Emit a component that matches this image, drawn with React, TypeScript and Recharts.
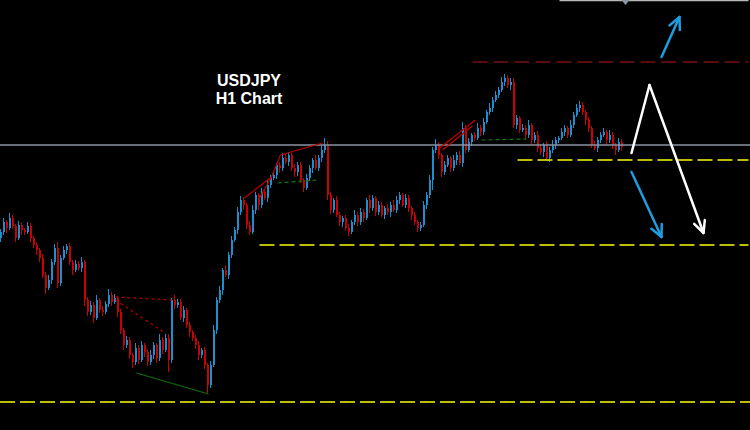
import { BarChart, Bar, XAxis, YAxis, ReferenceLine, ReferenceDot } from "recharts";

// USDJPY H1 closes (one per hour)
const firstOpen = 108.62;
const closes = [
  108.68, 108.78, 108.72, 108.82, 108.74, 108.62, 108.75, 108.7, 108.68, 108.74,
  108.62, 108.55, 108.5, 108.42, 108.25, 108.12, 108.2, 108.38, 108.52, 108.17,
  108.42, 108.5, 108.54, 108.38, 108.3, 108.36, 108.32, 108.38, 108.0, 107.88,
  107.95, 107.82, 108.0, 107.9, 107.88, 107.96, 108.05, 107.98, 108.02, 107.88,
  107.7, 107.55, 107.6, 107.45, 107.38, 107.52, 107.4, 107.55, 107.48, 107.38,
  107.45, 107.55, 107.42, 107.6, 107.5, 107.62, 107.4, 108.0, 107.95, 107.98,
  107.82, 107.9, 107.75, 107.68, 107.62, 107.55, 107.45, 107.5, 107.35, 107.15,
  107.35, 107.7, 108.0, 108.1, 108.3, 108.25, 108.45, 108.6, 108.7, 108.88,
  109.0, 108.95, 108.75, 108.68, 108.9, 109.05, 108.95, 109.08, 109.02, 109.15,
  109.22, 109.25, 109.35, 109.32, 109.42, 109.38, 109.45, 109.32, 109.28, 109.35,
  109.2, 109.12, 109.22, 109.32, 109.4, 109.32, 109.42, 109.5, 109.55, 109.05,
  108.9, 109.0, 108.85, 108.78, 108.82, 108.72, 108.68, 108.78, 108.85, 108.78,
  108.88, 108.82, 109.0, 108.92, 109.02, 108.88, 108.95, 108.85, 108.92, 108.88,
  108.95, 108.9, 109.0, 109.05, 108.95, 109.02, 108.92, 108.85, 108.78, 108.72,
  108.75, 108.95, 109.05, 109.2, 109.5, 109.55, 109.45, 109.28, 109.35, 109.42,
  109.32, 109.4, 109.45, 109.37, 109.72, 109.5, 109.58, 109.65, 109.62, 109.72,
  109.68, 109.78, 109.88, 109.92, 110.0, 110.05, 110.1, 110.18, 110.22, 110.15,
  110.18, 109.75, 109.82, 109.7, 109.72, 109.65, 109.75, 109.6, 109.65, 109.52,
  109.48, 109.55, 109.42, 109.5, 109.55, 109.6, 109.62, 109.68, 109.72, 109.65,
  109.75, 109.85, 109.92, 109.95, 109.88, 109.8, 109.72, 109.55, 109.52, 109.6,
  109.65, 109.68, 109.6, 109.65, 109.55, 109.5, 109.58, 109.53,
];

// wick lengths above / below the body, in pips (0.01)
const upperWick = [
  3, 4, 2, 5, 3, 2, 4, 3, 2, 4, 3, 2, 3, 2, 4, 3, 5, 3, 4, 6,
  3, 4, 2, 3, 2, 4, 3, 5, 2, 3, 4, 3, 5, 2, 4, 3, 6, 3, 4, 2,
  3, 2, 4, 3, 2, 5, 3, 4, 2, 3, 5, 3, 2, 6, 3, 4, 4, 2, 5, 3,
  3, 4, 2, 3, 2, 3, 4, 2, 3, 2, 4, 5, 3, 4, 2, 5, 3, 4, 3, 5,
  4, 3, 2, 4, 5, 3, 2, 4, 3, 5, 3, 4, 2, 3, 5, 4, 3, 2, 4, 3,
  3, 2, 4, 3, 2, 5, 3, 4, 7, 4, 3, 2, 4, 3, 2, 3, 4, 2, 5, 3,
  4, 3, 2, 5, 3, 2, 4, 3, 2, 4, 3, 5, 4, 3, 2, 4, 3, 2, 3, 2,
  3, 4, 3, 5, 3, 6, 3, 2, 4, 3, 2, 5, 3, 4, 6, 3, 4, 2, 3, 5,
  3, 4, 2, 5, 3, 4, 3, 5, 4, 3, 4, 4, 3, 2, 4, 3, 5, 2, 3, 4,
  3, 2, 4, 3, 5, 3, 2, 4, 3, 2, 5, 3, 4, 4, 3, 2, 3, 2, 4, 3,
  3, 4, 2, 5, 3, 2, 4, 3,
];
const lowerWick = [
  4, 3, 5, 2, 3, 4, 2, 5, 3, 2, 4, 3, 5, 4, 3, 6, 2, 4, 3, 5,
  3, 2, 4, 3, 5, 2, 3, 4, 6, 4, 3, 5, 2, 3, 4, 2, 3, 4, 2, 5,
  4, 5, 3, 4, 6, 3, 4, 2, 5, 4, 3, 4, 5, 3, 4, 2, 12, 3, 4, 3,
  2, 4, 3, 5, 3, 4, 5, 3, 4, 8, 3, 2, 4, 3, 5, 2, 4, 3, 2, 4,
  3, 5, 4, 3, 2, 4, 5, 3, 2, 4, 3, 2, 4, 5, 3, 2, 4, 3, 5, 4,
  3, 4, 2, 3, 5, 2, 3, 4, 3, 5, 4, 3, 2, 4, 5, 3, 4, 2, 3, 4,
  3, 4, 2, 5, 3, 4, 3, 2, 4, 3, 5, 2, 3, 4, 2, 3, 4, 5, 3, 4,
  3, 2, 4, 3, 10, 3, 4, 5, 3, 2, 4, 3, 5, 2, 4, 3, 2, 4, 3, 2,
  4, 3, 2, 3, 4, 2, 3, 2, 4, 3, 5, 3, 4, 3, 2, 4, 3, 5, 3, 4,
  3, 5, 2, 4, 3, 4, 3, 2, 4, 3, 2, 3, 2, 4, 3, 5, 4, 3, 2, 4,
  3, 2, 4, 3, 4, 5, 2, 4,
];

const SLOTS = 250; // hourly slots on screen, the rest is the empty right shift

// support / resistance levels
const resistance = 110.38;
const pivot = 109.55;
const support1 = 109.4;
const support2 = 108.55;
const support3 = 106.98;

const BLUE = "#1b8fcf";
const RED = "#cc0000";
const YELLOW = "#bdbd00";

const data = Array.from({ length: SLOTS }, (_, i) => {
  if (i >= closes.length) return { i };
  const o = i === 0 ? firstOpen : closes[i - 1];
  const c = closes[i];
  const hi = Math.max(o, c) + (upperWick[i] ?? 0) / 100;
  const lo = Math.min(o, c) - (lowerWick[i] ?? 0) / 100;
  return { i, o, c, hi, lo, range: [lo, hi] };
});

function Candle(props: any) {
  const { x, y, height, payload } = props;
  if (!payload || payload.o == null) return null;
  const { o, c, hi, lo } = payload;
  const color = c >= o ? BLUE : RED;
  const k = hi > lo ? Math.abs(height) / (hi - lo) : 0;
  const bx = Math.round(x);
  const bodyTop = y + (hi - Math.max(o, c)) * k;
  const bodyH = Math.max(1, Math.abs(o - c) * k);
  return (
    <g>
      <line x1={bx + 0.5} x2={bx + 0.5} y1={y} y2={y + Math.abs(height)} stroke={color} strokeWidth={1} />
      <rect x={bx} y={bodyTop} width={2} height={bodyH} fill={color} />
    </g>
  );
}

const arrow = (color: string, withHead: boolean) => (p: any) => {
  const { x1, y1, x2, y2 } = p;
  const a = Math.atan2(y2 - y1, x2 - x1);
  const L = 13;
  const s = 0.45;
  const hx1 = x2 - L * Math.cos(a - s);
  const hy1 = y2 - L * Math.sin(a - s);
  const hx2 = x2 - L * Math.cos(a + s);
  const hy2 = y2 - L * Math.sin(a + s);
  return (
    <g>
      <line x1={x1} y1={y1} x2={x2} y2={y2} stroke={color} strokeWidth={2.5} strokeLinecap="round" />
      {withHead && (
        <polyline
          points={`${hx1},${hy1} ${x2},${y2} ${hx2},${hy2}`}
          fill="none"
          stroke={color}
          strokeWidth={2.5}
          strokeLinecap="round"
          strokeLinejoin="round"
        />
      )}
    </g>
  );
};

const seg = (x1: number, y1: number, x2: number, y2: number) => [
  { x: x1, y: y1 },
  { x: x2, y: y2 },
];

export default function App() {
  return (
    <div style={{ position: "fixed", left: 0, top: 0, width: 750, height: 430, background: "#000" }}>
      <BarChart
        width={750}
        height={430}
        data={data}
        margin={{ top: 0, right: 0, bottom: 0, left: 0 }}
        barCategoryGap={0}
        style={{ background: "#000" }}
      >
        <XAxis dataKey="i" type="category" hide />
        <YAxis type="number" domain={[106.7, 111.0]} hide allowDataOverflow />

        <ReferenceLine segment={seg(186, 110.995, 249, 110.995)} stroke="#b8b8b8" strokeWidth={1.5} />
        <ReferenceDot
          x={208}
          y={110.98}
          shape={(p: any) => (
            <path d={`M${p.cx - 4},${p.cy - 2} L${p.cx + 4},${p.cy - 2} L${p.cx},${p.cy + 3} Z`} fill="#8c96a4" />
          )}
        />

        <ReferenceLine y={pivot} stroke="#8a93a3" strokeWidth={1.5} />
        <ReferenceLine segment={seg(157, resistance, 249, resistance)} stroke="#b01818" strokeWidth={1} strokeDasharray="15 6" />
        <ReferenceLine segment={seg(172, support1, 249, support1)} stroke={YELLOW} strokeWidth={2} strokeDasharray="15 5" />
        <ReferenceLine segment={seg(86, support2, 249, support2)} stroke={YELLOW} strokeWidth={2} strokeDasharray="15 5" />
        <ReferenceLine y={support3} stroke={YELLOW} strokeWidth={2} strokeDasharray="15 5" />

        {/* pattern lines drawn on the candles */}
        <ReferenceLine segment={seg(38, 108.03, 57, 108.0)} stroke="#b00000" strokeWidth={1.2} strokeDasharray="3 3" />
        <ReferenceLine segment={seg(38, 108.0, 54, 107.68)} stroke="#b00000" strokeWidth={1.2} strokeDasharray="3 3" />
        <ReferenceLine segment={seg(45, 107.27, 69, 107.06)} stroke="#0a6e0a" strokeWidth={1.2} />
        <ReferenceLine segment={seg(81, 109.02, 90, 109.23)} stroke="#c00000" strokeWidth={1.2} />
        <ReferenceLine segment={seg(86, 109.02, 90, 109.23)} stroke="#c00000" strokeWidth={1.2} />
        <ReferenceLine segment={seg(90, 109.23, 93, 109.45)} stroke="#c00000" strokeWidth={1.2} />
        <ReferenceLine segment={seg(93, 109.45, 107, 109.57)} stroke="#c00000" strokeWidth={1.2} />
        <ReferenceLine segment={seg(92, 109.17, 105, 109.2)} stroke="#0a7a0a" strokeWidth={1.2} strokeDasharray="4 3" />
        <ReferenceLine segment={seg(146, 109.52, 158, 109.8)} stroke="#c00000" strokeWidth={1.2} />
        <ReferenceLine segment={seg(147, 109.5, 157, 109.74)} stroke="#c00000" strokeWidth={1.2} />
        <ReferenceLine segment={seg(160, 109.6, 175, 109.61)} stroke="#0a7a0a" strokeWidth={1.2} strokeDasharray="4 3" />

        <Bar dataKey="range" shape={Candle} isAnimationActive={false} />

        {/* scenario arrows */}
        <ReferenceLine segment={seg(220, 110.43, 226, 110.83)} shape={arrow("#1e9ee0", true)} />
        <ReferenceLine segment={seg(210, 109.28, 220, 108.63)} shape={arrow("#1e9ee0", true)} />
        <ReferenceLine segment={seg(210, 109.47, 216, 110.15)} shape={arrow("#ffffff", false)} />
        <ReferenceLine segment={seg(216, 110.15, 234, 108.67)} shape={arrow("#ffffff", true)} />
      </BarChart>
      <div
        style={{
          position: "absolute",
          left: 189,
          top: 72,
          width: 120,
          textAlign: "center",
          color: "#fff",
          fontFamily: "'Liberation Sans', Arial, sans-serif",
          fontWeight: 700,
          fontSize: 16,
          lineHeight: "18px",
        }}
      >
        USDJPY
        <br />
        H1 Chart
      </div>
    </div>
  );
}
